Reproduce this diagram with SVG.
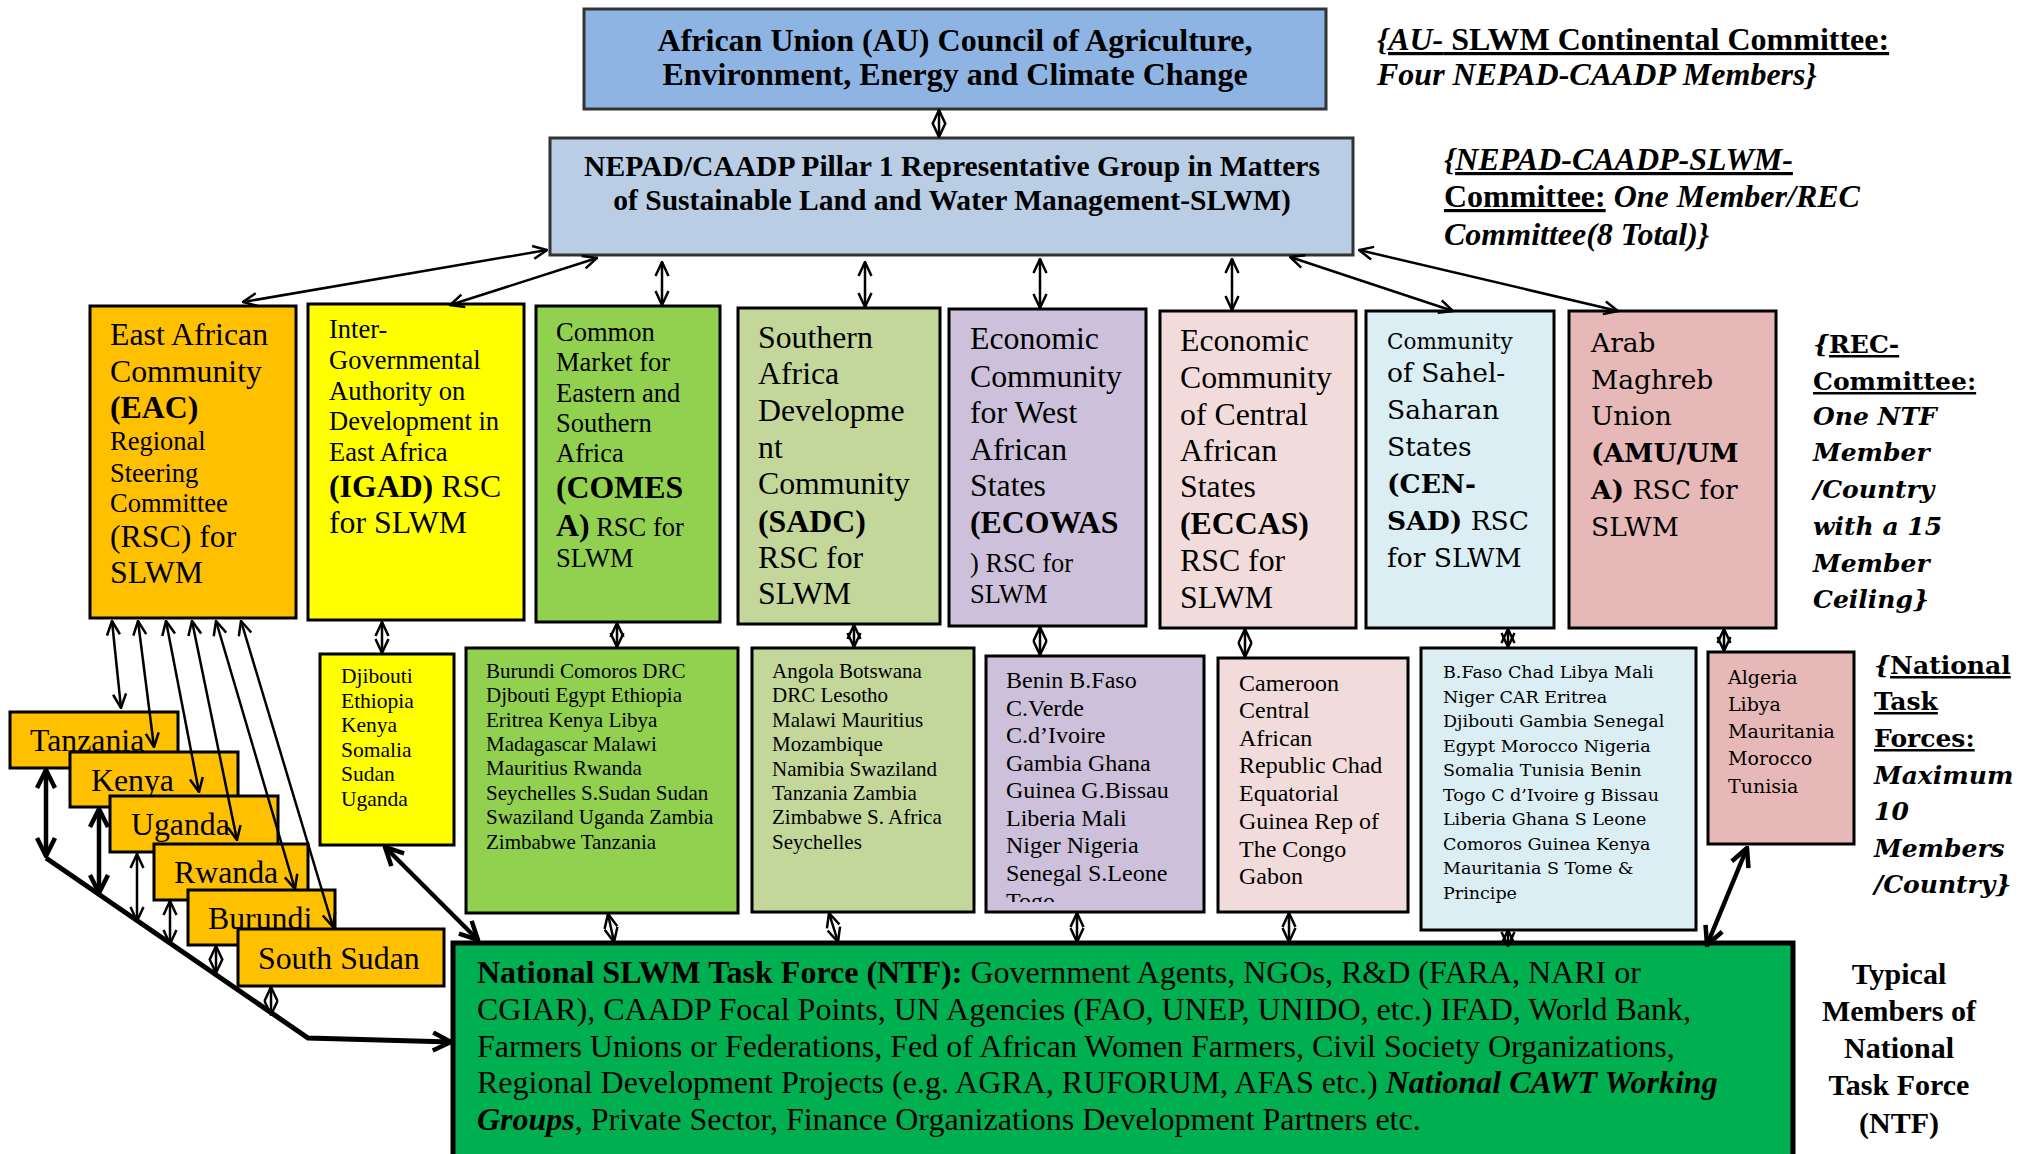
<svg xmlns="http://www.w3.org/2000/svg" width="2023" height="1154" viewBox="0 0 2023 1154">
<defs>
<style>
.t{font-family:"Liberation Serif","Times New Roman",serif;fill:#000}
.w{font-family:"DejaVu Serif",serif;fill:#000}
.bd{font-weight:bold}
.it{font-style:italic}
.bx{stroke:#000;stroke-width:3}
.c{fill:none;stroke:#000;stroke-width:2.5;marker-start:url(#h);marker-end:url(#h)}
.k{fill:none;stroke:#000;stroke-width:4.5;marker-start:url(#H);marker-end:url(#H)}
.L{font-size:31.8px}
.S{font-size:26.5px}
</style>
<marker id="h" viewBox="0 0 16 16" refX="15" refY="8" markerWidth="16" markerHeight="16" markerUnits="userSpaceOnUse" orient="auto-start-reverse"><path d="M1,1.5 L15,8 L1,14.5" fill="none" stroke="#000" stroke-width="2.5"/></marker>
<marker id="H" viewBox="0 0 22 22" refX="20" refY="11" markerWidth="22" markerHeight="22" markerUnits="userSpaceOnUse" orient="auto-start-reverse"><path d="M2,2 L20,11 L2,20" fill="none" stroke="#000" stroke-width="4.5"/></marker>
<clipPath id="ecoClip"><rect x="986" y="656" width="218" height="246"/></clipPath>
</defs>
<rect width="2023" height="1154" fill="#fff"/>

<g id="au">
<rect x="584" y="9" width="742" height="100" fill="#8eb4e3" stroke="#333" stroke-width="3"/>
<text class="t bd" font-size="32" text-anchor="middle"><tspan x="955" y="51">African Union (AU) Council of Agriculture,</tspan><tspan x="955" y="85">Environment, Energy and Climate Change</tspan></text>
</g>
<g id="nepad">
<rect x="550" y="138" width="803" height="117" fill="#b9cde5" stroke="#333" stroke-width="3"/>
<text class="t bd" font-size="29.6" text-anchor="middle"><tspan x="952" y="176">NEPAD/CAADP Pillar 1 Representative Group in Matters</tspan><tspan x="952" y="210">of Sustainable Land and Water Management-SLWM)</tspan></text>
</g>
<g id="note-au">
<text class="t bd" font-size="32"><tspan x="1377" y="50"><tspan class="it">{</tspan><tspan class="it" text-decoration="underline">AU-</tspan><tspan text-decoration="underline"> SLWM Continental Committee:</tspan></tspan><tspan class="it" x="1377" y="85">Four NEPAD-CAADP Members}</tspan></text>
</g>
<g id="note-nepad">
<text class="t bd" font-size="32"><tspan x="1444" y="170"><tspan class="it">{</tspan><tspan class="it" text-decoration="underline">NEPAD-CAADP-SLWM-</tspan></tspan><tspan x="1444" y="207"><tspan text-decoration="underline">Committee:</tspan><tspan class="it"> One Member/REC</tspan></tspan><tspan class="it" x="1444" y="245">Committee(8 Total)}</tspan></text>
</g>

<g id="eac">
<rect class="bx" x="90" y="306" width="206" height="312" fill="#ffc000"/>
<text class="t"><tspan class="L" x="110" y="345">East African</tspan><tspan class="L" x="110" y="382">Community</tspan><tspan class="L bd" x="110" y="418">(EAC)</tspan><tspan class="S" x="110" y="450">Regional</tspan><tspan class="S" x="110" y="482">Steering</tspan><tspan class="S" x="110" y="512">Committee</tspan><tspan class="L" x="110" y="547">(RSC) for</tspan><tspan class="L" x="110" y="583">SLWM</tspan></text>
</g>
<g id="igad">
<rect class="bx" x="308" y="304" width="216" height="316" fill="#ffff00"/>
<text class="t"><tspan class="S" x="329" y="338">Inter-</tspan><tspan class="S" x="329" y="369">Governmental</tspan><tspan class="S" x="329" y="400">Authority on</tspan><tspan class="S" x="329" y="430">Development in</tspan><tspan class="S" x="329" y="461">East Africa</tspan><tspan class="L" x="329" y="497"><tspan class="bd">(IGAD)</tspan> RSC</tspan><tspan class="L" x="329" y="533">for SLWM</tspan></text>
</g>
<g id="comesa">
<rect class="bx" x="536" y="306" width="184" height="316" fill="#92d050"/>
<text class="t"><tspan class="S" x="556" y="341">Common</tspan><tspan class="S" x="556" y="371">Market for</tspan><tspan class="S" x="556" y="402">Eastern and</tspan><tspan class="S" x="556" y="432">Southern</tspan><tspan class="S" x="556" y="462">Africa</tspan><tspan class="L bd" x="556" y="498">(COMES</tspan><tspan x="556" y="536"><tspan class="L bd">A)</tspan><tspan class="S"> RSC for</tspan></tspan><tspan class="S" x="556" y="567">SLWM</tspan></text>
</g>
<g id="sadc">
<rect class="bx" x="738" y="308" width="202" height="316" fill="#c4d79b"/>
<text class="t L"><tspan x="758" y="348">Southern</tspan><tspan x="758" y="384">Africa</tspan><tspan x="758" y="421">Developme</tspan><tspan x="758" y="458">nt</tspan><tspan x="758" y="494">Community</tspan><tspan class="bd" x="758" y="532">(SADC)</tspan><tspan x="758" y="568">RSC for</tspan><tspan x="758" y="604">SLWM</tspan></text>
</g>
<g id="ecowas">
<rect class="bx" x="949" y="309" width="197" height="317" fill="#ccc0da"/>
<text class="t"><tspan class="L" x="970" y="349">Economic</tspan><tspan class="L" x="970" y="387">Community</tspan><tspan class="L" x="970" y="423">for West</tspan><tspan class="L" x="970" y="460">African</tspan><tspan class="L" x="970" y="496">States</tspan><tspan class="L bd" x="970" y="533">(ECOWAS</tspan><tspan class="S" x="970" y="572">) RSC for</tspan><tspan class="S" x="970" y="603">SLWM</tspan></text>
</g>
<g id="eccas">
<rect class="bx" x="1160" y="311" width="196" height="317" fill="#f2dcdb"/>
<text class="t L"><tspan x="1180" y="351">Economic</tspan><tspan x="1180" y="388">Community</tspan><tspan x="1180" y="425">of Central</tspan><tspan x="1180" y="461">African</tspan><tspan x="1180" y="497">States</tspan><tspan class="bd" x="1180" y="534">(ECCAS)</tspan><tspan x="1180" y="571">RSC for</tspan><tspan x="1180" y="608">SLWM</tspan></text>
</g>
<g id="censad">
<rect class="bx" x="1366" y="311" width="188" height="317" fill="#daeef3"/>
<text class="w" font-size="26.5"><tspan font-size="21.5" x="1387" y="349">Community</tspan><tspan x="1387" y="382">of Sahel-</tspan><tspan x="1387" y="419">Saharan</tspan><tspan x="1387" y="456">States</tspan><tspan class="bd" x="1387" y="493">(CEN-</tspan><tspan x="1387" y="530"><tspan class="bd">SAD)</tspan> RSC</tspan><tspan x="1387" y="567">for SLWM</tspan></text>
</g>
<g id="amu">
<rect class="bx" x="1569" y="311" width="207" height="317" fill="#e6b8b7"/>
<text class="w" font-size="26.5"><tspan x="1591" y="352">Arab</tspan><tspan x="1591" y="389">Maghreb</tspan><tspan x="1591" y="425">Union</tspan><tspan class="bd" x="1591" y="462">(AMU/UM</tspan><tspan x="1591" y="499"><tspan class="bd">A)</tspan> RSC for</tspan><tspan x="1591" y="536">SLWM</tspan></text>
</g>
<g id="note-rec">
<text class="w bd" font-size="25"><tspan x="1813" y="353"><tspan class="it">{</tspan><tspan text-decoration="underline">REC-</tspan></tspan><tspan x="1813" y="390" text-decoration="underline">Committee:</tspan><tspan class="it" x="1813" y="425">One NTF</tspan><tspan class="it" x="1813" y="461">Member</tspan><tspan class="it" x="1813" y="498">/Country</tspan><tspan class="it" x="1813" y="535">with a 15</tspan><tspan class="it" x="1813" y="572">Member</tspan><tspan class="it" x="1813" y="608">Ceiling}</tspan></text>
</g>

<g id="igad-list">
<rect class="bx" x="320" y="654" width="134" height="191" fill="#ffff00"/>
<text class="t" font-size="21.5"><tspan x="341" y="683">Djibouti</tspan><tspan x="341" y="708">Ethiopia</tspan><tspan x="341" y="732">Kenya</tspan><tspan x="341" y="757">Somalia</tspan><tspan x="341" y="781">Sudan</tspan><tspan x="341" y="806">Uganda</tspan></text>
</g>
<g id="comesa-list">
<rect class="bx" x="466" y="648" width="272" height="265" fill="#92d050"/>
<text class="t" font-size="21"><tspan x="486" y="678">Burundi Comoros DRC</tspan><tspan x="486" y="702">Djbouti Egypt Ethiopia</tspan><tspan x="486" y="727">Eritrea Kenya Libya</tspan><tspan x="486" y="751">Madagascar Malawi</tspan><tspan x="486" y="775">Mauritius Rwanda</tspan><tspan x="486" y="800">Seychelles S.Sudan Sudan</tspan><tspan x="486" y="824">Swaziland Uganda Zambia</tspan><tspan x="486" y="849">Zimbabwe Tanzania</tspan></text>
</g>
<g id="sadc-list">
<rect class="bx" x="752" y="648" width="222" height="264" fill="#c4d79b"/>
<text class="t" font-size="21"><tspan x="772" y="678">Angola Botswana</tspan><tspan x="772" y="702">DRC Lesotho</tspan><tspan x="772" y="727">Malawi Mauritius</tspan><tspan x="772" y="751">Mozambique</tspan><tspan x="772" y="776">Namibia Swaziland</tspan><tspan x="772" y="800">Tanzania Zambia</tspan><tspan x="772" y="824">Zimbabwe S. Africa</tspan><tspan x="772" y="849">Seychelles</tspan></text>
</g>
<g id="ecowas-list">
<rect class="bx" x="986" y="656" width="218" height="256" fill="#ccc0da"/>
<text class="t" font-size="24" clip-path="url(#ecoClip)"><tspan x="1006" y="688">Benin B.Faso</tspan><tspan x="1006" y="716">C.Verde</tspan><tspan x="1006" y="743">C.d’Ivoire</tspan><tspan x="1006" y="771">Gambia Ghana</tspan><tspan x="1006" y="798">Guinea G.Bissau</tspan><tspan x="1006" y="826">Liberia Mali</tspan><tspan x="1006" y="853">Niger Nigeria</tspan><tspan x="1006" y="881">Senegal S.Leone</tspan><tspan x="1006" y="909">Togo</tspan></text>
</g>
<g id="eccas-list">
<rect class="bx" x="1218" y="658" width="190" height="254" fill="#f2dcdb"/>
<text class="t" font-size="24"><tspan x="1239" y="691">Cameroon</tspan><tspan x="1239" y="718">Central</tspan><tspan x="1239" y="746">African</tspan><tspan x="1239" y="773">Republic Chad</tspan><tspan x="1239" y="801">Equatorial</tspan><tspan x="1239" y="829">Guinea Rep of</tspan><tspan x="1239" y="857">The Congo</tspan><tspan x="1239" y="884">Gabon</tspan></text>
</g>
<g id="censad-list">
<rect class="bx" x="1421" y="648" width="275" height="282" fill="#daeef3"/>
<text class="w" font-size="17.5"><tspan x="1443" y="678">B.Faso Chad Libya Mali</tspan><tspan x="1443" y="703">Niger CAR Eritrea</tspan><tspan x="1443" y="727">Djibouti Gambia Senegal</tspan><tspan x="1443" y="752">Egypt Morocco Nigeria</tspan><tspan x="1443" y="776">Somalia Tunisia Benin</tspan><tspan x="1443" y="801">Togo C d’Ivoire g Bissau</tspan><tspan x="1443" y="825">Liberia Ghana S Leone</tspan><tspan x="1443" y="850">Comoros Guinea Kenya</tspan><tspan x="1443" y="874">Mauritania S Tome &amp;</tspan><tspan x="1443" y="899">Principe</tspan></text>
</g>
<g id="amu-list">
<rect class="bx" x="1708" y="652" width="146" height="192" fill="#e6b8b7"/>
<text class="w" font-size="19"><tspan x="1728" y="684">Algeria</tspan><tspan x="1728" y="711">Libya</tspan><tspan x="1728" y="738">Mauritania</tspan><tspan x="1728" y="765">Morocco</tspan><tspan x="1728" y="793">Tunisia</tspan></text>
</g>
<g id="note-ntf">
<text class="w bd" font-size="25"><tspan x="1874" y="674"><tspan class="it">{</tspan><tspan text-decoration="underline">National</tspan></tspan><tspan x="1874" y="710" text-decoration="underline">Task</tspan><tspan x="1874" y="747" text-decoration="underline">Forces:</tspan><tspan class="it" x="1874" y="784">Maximum</tspan><tspan class="it" x="1874" y="820">10</tspan><tspan class="it" x="1874" y="857">Members</tspan><tspan class="it" x="1874" y="893">/Country}</tspan></text>
</g>

<g id="tanzania"><rect class="bx" x="10" y="712" width="168" height="56" fill="#ffc000"/><text class="t L" x="30" y="751">Tanzania</text></g>
<g id="kenya"><rect class="bx" x="70" y="752" width="168" height="55" fill="#ffc000"/><text class="t L" x="91" y="791">Kenya</text></g>
<g id="uganda"><rect class="bx" x="110" y="796" width="168" height="56" fill="#ffc000"/><text class="t L" x="131" y="835">Uganda</text></g>
<g id="rwanda"><rect class="bx" x="154" y="844" width="154" height="56" fill="#ffc000"/><text class="t L" x="174" y="883">Rwanda</text></g>
<g id="burundi"><rect class="bx" x="188" y="890" width="147" height="55" fill="#ffc000"/><text class="t L" x="208" y="929">Burundi</text></g>
<g id="southsudan"><rect class="bx" x="238" y="929" width="206" height="57" fill="#ffc000"/><text class="t L" x="258" y="969">South Sudan</text></g>

<g id="ntf">
<rect x="453" y="943" width="1340" height="240" fill="#00b050" stroke="#000" stroke-width="5"/>
<text class="t" font-size="32"><tspan x="477" y="983"><tspan class="bd">National SLWM Task Force (NTF):</tspan> Government Agents, NGOs, R&amp;D (FARA, NARI or</tspan><tspan x="477" y="1020">CGIAR), CAADP Focal Points, UN Agencies (FAO, UNEP, UNIDO, etc.) IFAD, World Bank,</tspan><tspan x="477" y="1057">Farmers Unions or Federations, Fed of African Women Farmers, Civil Society Organizations,</tspan><tspan x="477" y="1093">Regional Development Projects (e.g. AGRA, RUFORUM, AFAS etc.) <tspan class="bd it">National CAWT Working</tspan></tspan><tspan x="477" y="1130"><tspan class="bd it">Groups</tspan>, Private Sector, Finance Organizations Development Partners etc.</tspan></text>
</g>
<g id="note-typical">
<text class="t bd" font-size="30" text-anchor="middle"><tspan x="1899" y="984">Typical</tspan><tspan x="1899" y="1021">Members of</tspan><tspan x="1899" y="1058">National</tspan><tspan x="1899" y="1095">Task Force</tspan><tspan x="1899" y="1133">(NTF)</tspan></text>
</g>

<g id="connectors">
<line class="c" x1="939" y1="110" x2="939" y2="137"/>
<line class="c" x1="547" y1="250" x2="243" y2="302"/>
<line class="c" x1="597" y1="258" x2="450" y2="305"/>
<line class="c" x1="662" y1="262" x2="662" y2="305"/>
<line class="c" x1="865" y1="262" x2="865" y2="307"/>
<line class="c" x1="1040" y1="259" x2="1040" y2="308"/>
<line class="c" x1="1232" y1="259" x2="1232" y2="310"/>
<line class="c" x1="1290" y1="257" x2="1453" y2="311"/>
<line class="c" x1="1359" y1="250" x2="1618" y2="311"/>
<line class="c" x1="112" y1="621" x2="121" y2="708"/>
<line class="c" x1="138" y1="621" x2="154" y2="747"/>
<line class="c" x1="166" y1="621" x2="199" y2="792"/>
<line class="c" x1="192" y1="621" x2="237" y2="840"/>
<line class="c" x1="216" y1="621" x2="295" y2="889"/>
<line class="c" x1="241" y1="621" x2="333" y2="927"/>
<line class="c" x1="382" y1="622" x2="382" y2="653"/>
<line class="c" x1="617" y1="623" x2="617" y2="647"/>
<line class="c" x1="854" y1="625" x2="854" y2="647"/>
<line class="c" x1="1040" y1="627" x2="1040" y2="655"/>
<line class="c" x1="1245" y1="629" x2="1245" y2="657"/>
<line class="c" x1="1508" y1="629" x2="1508" y2="647"/>
<line class="c" x1="1724" y1="629" x2="1724" y2="651"/>
<line class="c" x1="608" y1="914" x2="614" y2="942"/>
<line class="c" x1="829" y1="913" x2="838" y2="942"/>
<line class="c" x1="1077" y1="913" x2="1077" y2="942"/>
<line class="c" x1="1289" y1="913" x2="1289" y2="942"/>
<line class="c" x1="1508" y1="930" x2="1508" y2="946"/>
<line class="k" x1="385" y1="847" x2="478" y2="940"/>
<line class="k" x1="1747" y1="848" x2="1707" y2="945"/>
<line class="k" x1="46" y1="770" x2="46" y2="856"/>
<line class="k" x1="99" y1="809" x2="99" y2="893"/>
<line class="c" x1="137" y1="854" x2="137" y2="921"/>
<line class="c" x1="170" y1="901" x2="170" y2="944"/>
<line class="c" x1="216" y1="946" x2="216" y2="973"/>
<line class="c" x1="271" y1="987" x2="271" y2="1015"/>
<polyline points="46,858 308,1038 451,1042" fill="none" stroke="#000" stroke-width="5" marker-end="url(#H)"/>
</g>
</svg>
